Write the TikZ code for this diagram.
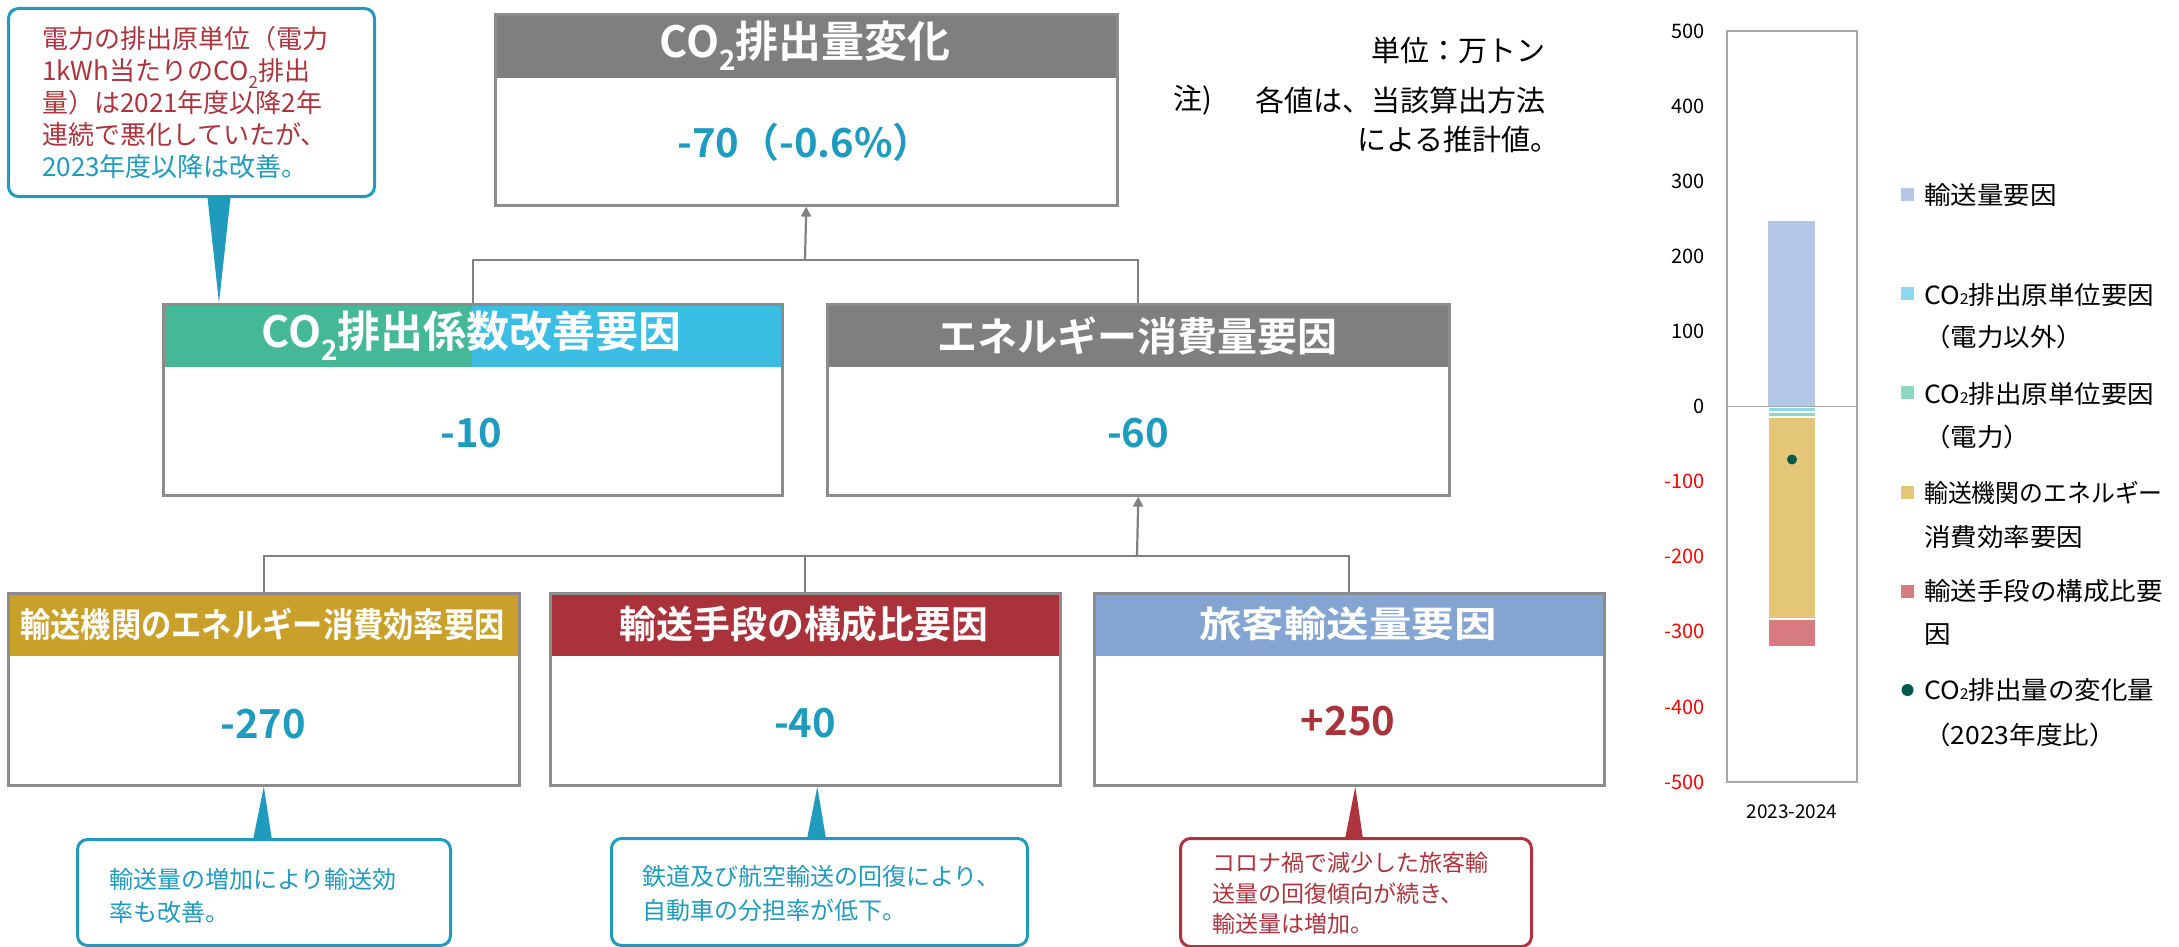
\documentclass[tikz,border=0pt]{standalone}
\usepackage{fontspec}
\setmainfont{Noto Sans CJK JP}[BoldFont={Noto Sans CJK JP Bold}]
\newfontfamily\lgfont{Noto Sans CJK JP}[FakeStretch=1.06]
\usepackage{graphicx}
\usetikzlibrary{calc,arrows.meta}
\definecolor{hgray}{HTML}{7F7F7F}
\definecolor{fgray}{HTML}{8C8C8C}
\definecolor{lgray}{HTML}{808080}
\definecolor{hgreen}{HTML}{45B897}
\definecolor{hcyan}{HTML}{3BBEE3}
\definecolor{hgold}{HTML}{C9A02A}
\definecolor{hred}{HTML}{AA333B}
\definecolor{hblue}{HTML}{84A5D2}
\definecolor{vteal}{HTML}{1E9BBF}
\definecolor{cteal}{HTML}{209ABD}
\definecolor{cred}{HTML}{AD343D}
\definecolor{axred}{HTML}{FF0000}
\definecolor{barblue}{HTML}{B4C7E7}
\definecolor{barcyan}{HTML}{8BD9EE}
\definecolor{barmint}{HTML}{8DD6BF}
\definecolor{bargold}{HTML}{E3C677}
\definecolor{barpink}{HTML}{D87A81}
\definecolor{dotgreen}{HTML}{005A4B}
\definecolor{framegray}{HTML}{A6A6A6}
\newcommand{\setfs}[1]{\fontsize{#1pt}{#1pt}\selectfont}
\newcommand{\lowtwo}{\raisebox{-0.3em}{\scalebox{0.65}{2}}}
\newcommand{\smalltwo}{\raisebox{-0.02em}{\scalebox{0.6}{2}}}
\tikzset{
  hdr/.style={rectangle, inner sep=0pt, draw=none, anchor=north west},
  frame/.style={rectangle, inner sep=0pt, draw=fgray, line width=2.6pt, anchor=north west},
  htext/.style={text=white, inner sep=0pt, font=\bfseries},
  val/.style={inner sep=0pt, text=vteal, font=\bfseries\setfs{40}},
  conn/.style={draw=lgray, line width=2.2pt},
  arr/.style={conn, -{Triangle[length=10pt,width=10pt]}},
  callout/.style={rectangle, rounded corners=10pt, line width=3pt, fill=white, inner sep=0pt, anchor=north west},
  ctext/.style={inner sep=0pt, anchor=north west, align=left},
  note/.style={inner sep=0pt, text=black, font=\setfs{29}},
  axl/.style={inner sep=0pt, anchor=east, font=\setfs{20}},
  lgt/.style={inner sep=0pt, anchor=west, font=\lgfont\setfs{25}},
  lsq/.style={rectangle, inner sep=0pt, minimum size=13pt},
  bar/.style={draw=white, line width=1pt}
}
\begin{document}
\begin{tikzpicture}[x=1pt,y=-1pt]
\useasboundingbox[fill=white] (0,0) rectangle (2179,947);

% ---------- top box ----------
\node[hdr, fill=hgray, minimum width=622pt, minimum height=65pt] (toph) at (494,13) {};
\node[htext, font=\bfseries\setfs{43}] (topt) at (805,46) {CO\lowtwo 排出量変化};
\node[frame, minimum width=622pt, minimum height=191pt] (top) at (494,13) {};
\node[val] (topv) at (805,142) {-70（-0.6\%）};

% ---------- middle boxes ----------
\node[hdr, fill=hgreen, minimum width=310pt, minimum height=64pt] (m1hl) at (162,303) {};
\node[hdr, fill=hcyan, minimum width=309pt, minimum height=64pt] (m1hr) at (472,303) {};
\node[htext, font=\bfseries\setfs{43}] (m1t) at (471.5,336) {CO\lowtwo 排出係数改善要因};
\node[frame, minimum width=619pt, minimum height=191pt] (m1) at (162,303) {};
\node[val] (m1v) at (471.5,433) {-10};

\node[hdr, fill=hgray, minimum width=622pt, minimum height=64pt] (m2h) at (826,303) {};
\node[htext, font=\bfseries\setfs{40}] (m2t) at (1137,336) {エネルギー消費量要因};
\node[frame, minimum width=622pt, minimum height=191pt] (m2) at (826,303) {};
\node[val] (m2v) at (1138,433) {-60};

% ---------- bottom boxes ----------
\node[hdr, fill=hgold, minimum width=511pt, minimum height=64pt] (b1h) at (7,592) {};
\node[htext, font=\bfseries\setfs{34}] (b1t) at (262.5,624) {\scalebox{0.89}[1]{輸送機関のエネルギー消費効率要因}};
\node[frame, minimum width=511pt, minimum height=192pt] (b1) at (7,592) {};
\node[val] (b1v) at (263,724) {-270};

\node[hdr, fill=hred, minimum width=510pt, minimum height=64pt] (b2h) at (549,592) {};
\node[htext, font=\bfseries\setfs{38}] (b2t) at (804,624) {\scalebox{0.97}[1]{輸送手段の構成比要因}};
\node[frame, minimum width=510pt, minimum height=192pt] (b2) at (549,592) {};
\node[val] (b2v) at (805,723) {-40};

\node[hdr, fill=hblue, minimum width=510pt, minimum height=64pt] (b3h) at (1093,592) {};
\node[htext, font=\bfseries\setfs{36}] (b3t) at (1348,624) {\scalebox{1.18}[1]{旅客輸送量要因}};
\node[frame, minimum width=510pt, minimum height=192pt] (b3) at (1093,592) {};
\node[val, text=hred] (b3v) at (1348,721) {+250};

% ---------- connectors ----------
\coordinate (j1) at (805,260);
\draw[conn] (m1.north) |- (j1) -| (m2.north);
\draw[arr] (j1) -- (top.south);
\coordinate (j2) at (1137,556);
\draw[conn] (b1.north) |- (j2);
\draw[conn] (b3.north) |- (j2);
\draw[conn] (b2.north) -- (b2.north |- j2);
\draw[arr] (j2) -- (m2.south);

% ---------- notes ----------
\node[note, anchor=east] (n1) at (1546,50) {単位：万トン};
\node[note, anchor=west] (n2a) at (1173,100) {注)};
\node[note, anchor=east] (n2b) at (1546,100) {各値は、当該算出方法};
\node[note, anchor=east] (n3) at (1560,139) {による推計値。};

% ---------- callouts ----------
\fill[cteal] (207,193) -- ($(m1.north west)+(57,0)$) -- (231,193) -- cycle;
\node[callout, draw=cteal, minimum width=366pt, minimum height=188pt] (c1) at (7,7) {};
\node[ctext, font=\fontsize{26pt}{32pt}\selectfont] (c1t) at (42,26) {%
\textcolor{cred}{電力の排出原単位（電力}\\
\textcolor{cred}{1kWh当たりのCO\lowtwo 排出}\\
\textcolor{cred}{量）は2021年度以降2年}\\
\textcolor{cred}{連続で悪化していたが、}\\
\textcolor{cteal}{2023年度以降は改善。}};

\fill[cteal] (253,840) -- (b1.south) -- (272,840) -- cycle;
\node[callout, draw=cteal, minimum width=373pt, minimum height=106pt] (cA) at (76,838) {};
\node[ctext, text=cteal, font=\fontsize{24pt}{33pt}\selectfont] (cAt) at (109,868) {輸送量の増加により輸送効\\率も改善。};

\fill[cteal] (807,839) -- ($(b2.south)+(12,0)$) -- (826,839) -- cycle;
\node[callout, draw=cteal, minimum width=416pt, minimum height=107pt] (cB) at (610,837) {};
\node[ctext, text=cteal, font=\fontsize{24pt}{34pt}\selectfont] (cBt) at (642,865) {鉄道及び航空輸送の回復により、\\自動車の分担率が低下。};

\fill[cred] (1345,839) -- ($(b3.south)+(6,0)$) -- (1363,839) -- cycle;
\node[callout, draw=cred, minimum width=351pt, minimum height=108pt] (cC) at (1179,837) {};
\node[ctext, text=cred, font=\fontsize{23pt}{30.5pt}\selectfont] (cCt) at (1212,852) {コロナ禍で減少した旅客輸\\送量の回復傾向が続き、\\輸送量は増加。};

% ---------- chart ----------
\draw[framegray, line width=1.5pt] (1727,31) rectangle (1857,782);
\fill[barblue] (1768,221) rectangle (1815,406.5);
\draw[framegray, line width=1.5pt] (1727,406.5) -- (1857,406.5);
\filldraw[bar, fill=barcyan] (1768,407.5) rectangle (1815,411.5);
\filldraw[bar, fill=barmint] (1768,412) rectangle (1815,416.5);
\filldraw[bar, fill=bargold] (1768,417) rectangle (1815,618.5);
\filldraw[bar, fill=barpink] (1768,619) rectangle (1815,646);
\fill[dotgreen] (1792,459.5) circle (5pt);
\foreach \v [count=\i] in {500,400,300,200,100,0} {
  \node[axl] (axp\i) at (1705,{406.5-0.751*\v}) {\v};
}
\foreach \v [count=\i] in {-100,-200,-300,-400,-500} {
  \node[axl, text=axred] (axn\i) at (1705,{406.5-0.751*\v}) {\v};
}
\node[inner sep=0pt, font=\setfs{19}] (xl) at (1792,812) {2023-2024};

% legend
\node[lsq, fill=barblue] (lg1) at (1907.5,194) {};
\node[lgt] (lt1) at (1924,195) {輸送量要因};
\node[lsq, fill=barcyan] (lg2) at (1907.5,293) {};
\node[lgt] (lt2a) at (1924,295) {CO\smalltwo 排出原単位要因};
\node[lgt] (lt2b) at (1924,337) {（電力以外）};
\node[lsq, fill=barmint] (lg3) at (1907.5,392) {};
\node[lgt] (lt3a) at (1924,394) {CO\smalltwo 排出原単位要因};
\node[lgt] (lt3b) at (1924,437) {（電力）};
\node[lsq, fill=bargold] (lg4) at (1907.5,492) {};
\node[lgt] (lt4a) at (1924,493) {\scalebox{0.9}[1]{輸送機関のエネルギー}};
\node[lgt] (lt4b) at (1924,537) {消費効率要因};
\node[lsq, fill=barpink] (lg5) at (1907.5,591) {};
\node[lgt] (lt5a) at (1924,591) {輸送手段の構成比要};
\node[lgt] (lt5b) at (1924,635) {因};
\node[circle, fill=dotgreen, inner sep=0pt, minimum size=12pt] (lg6) at (1907.5,690) {};
\node[lgt] (lt6a) at (1924,690) {CO\smalltwo 排出量の変化量};
\node[lgt] (lt6b) at (1924,735) {（2023年度比）};
\end{tikzpicture}
\end{document}
